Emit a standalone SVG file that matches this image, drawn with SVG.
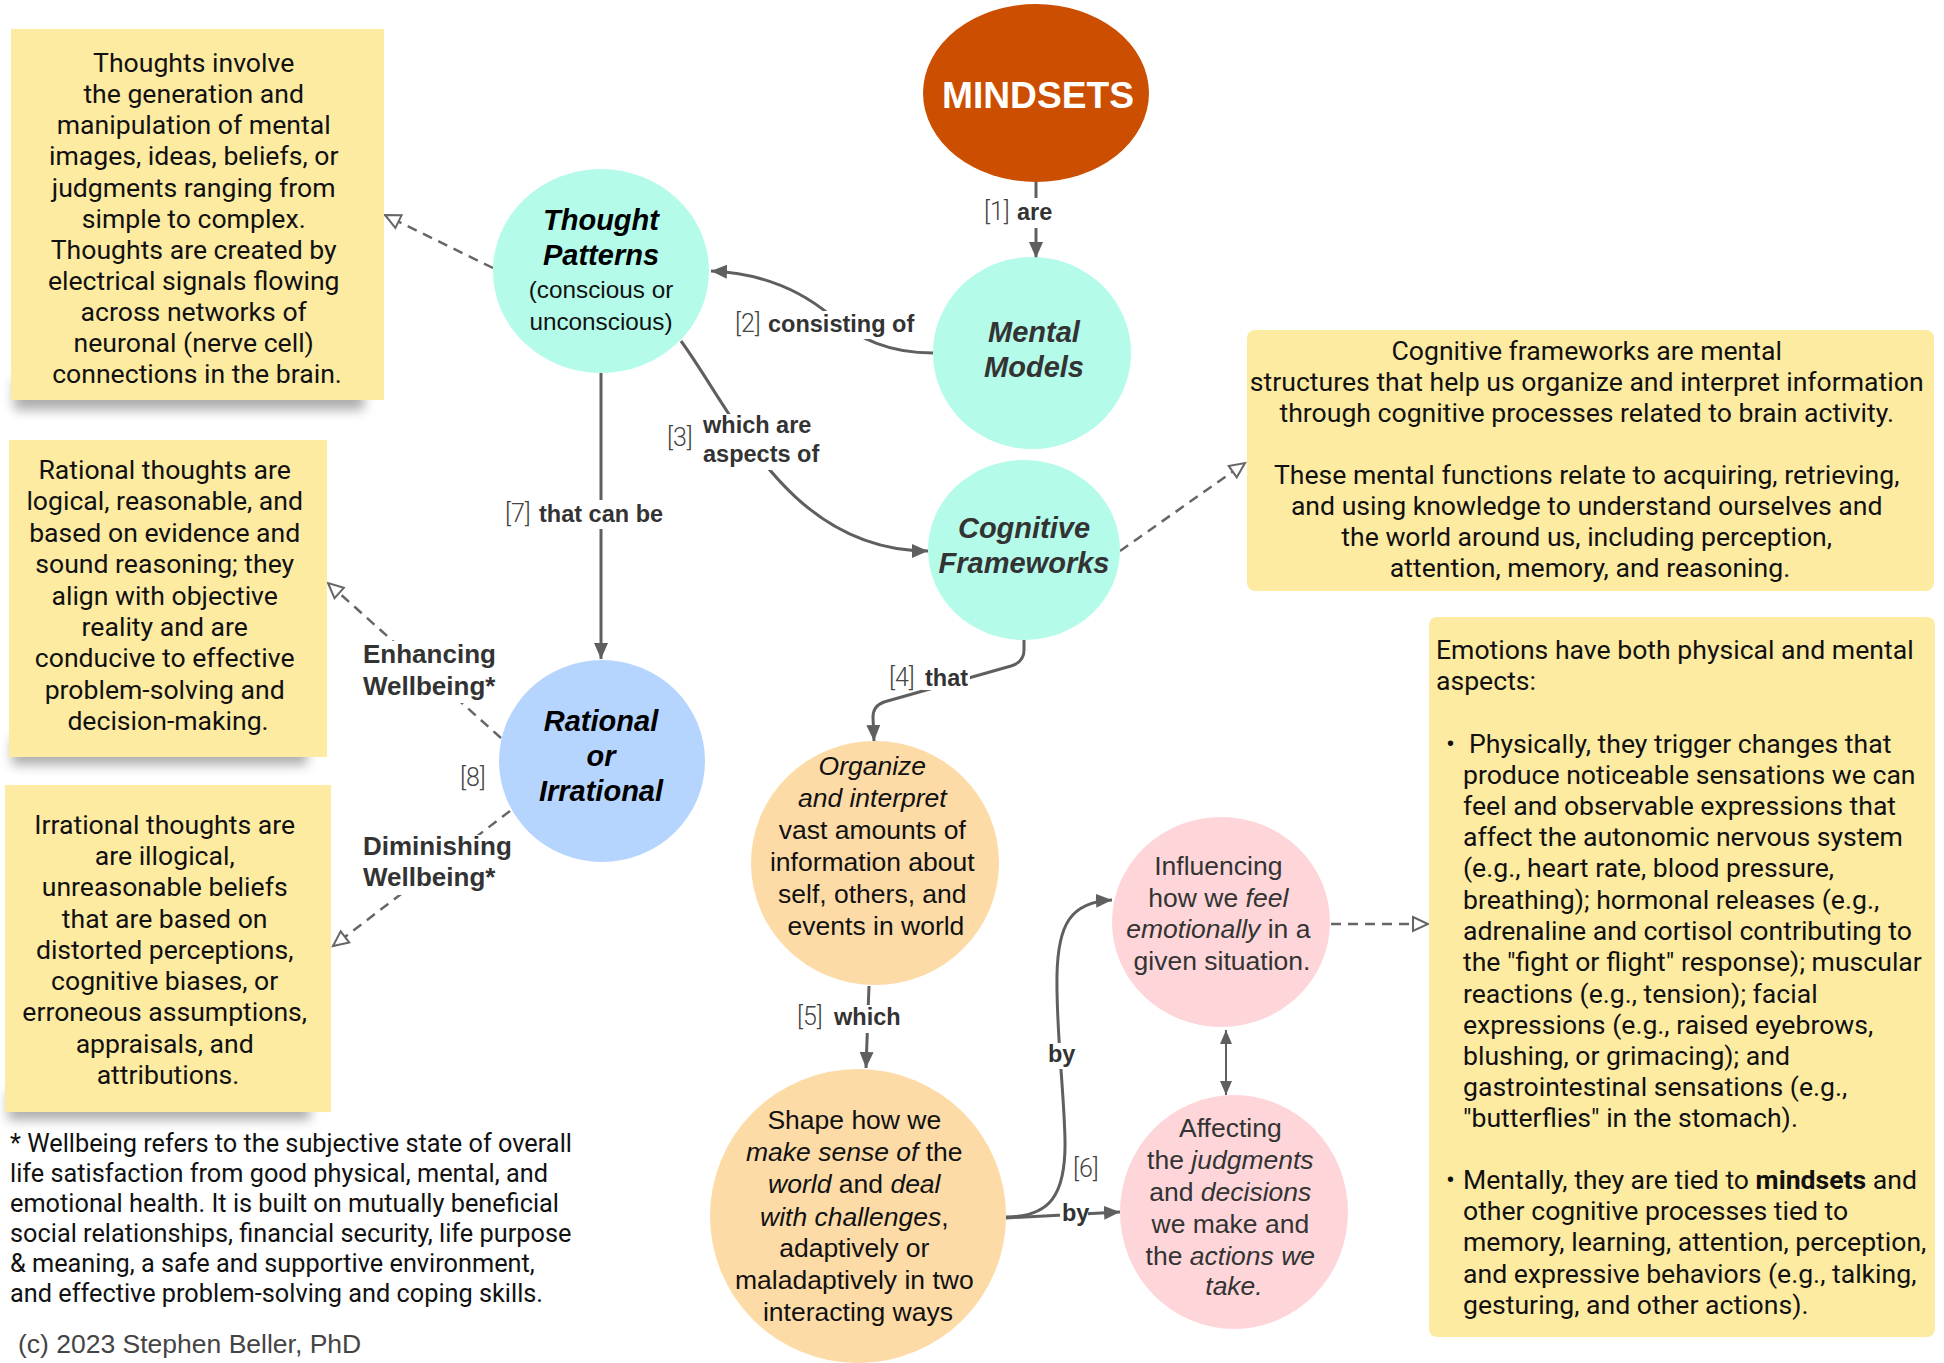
<svg xmlns="http://www.w3.org/2000/svg" width="1944" height="1363" viewBox="0 0 1944 1363">
<defs>
<marker id="ah" markerUnits="userSpaceOnUse" markerWidth="18" markerHeight="16" refX="16" refY="8" orient="auto"><path d="M0,1 L16,8 L0,15 z" fill="#5f5f5f"/></marker>
<marker id="ahs" markerUnits="userSpaceOnUse" markerWidth="16" markerHeight="14" refX="14" refY="7" orient="auto-start-reverse"><path d="M0,1 L14,7 L0,13 z" fill="#5f5f5f"/></marker>
<marker id="ao" markerUnits="userSpaceOnUse" markerWidth="20" markerHeight="18" refX="17" refY="9" orient="auto"><path d="M2,2 L17,9 L2,16 z" fill="#fff" stroke="#666" stroke-width="2"/></marker>
<filter id="blur" x="-20%" y="-20%" width="140%" height="160%"><feGaussianBlur stdDeviation="6"/></filter>
</defs>
<style>
.note{fill:#FEEBA2}
.shadow{fill:#6b6b6b;opacity:0.55;filter:url(#blur)}
.nt{font-family:Roboto,'Liberation Sans',sans-serif;font-size:26.6px;fill:#111}
.c{text-anchor:middle}
.nd{font-family:'Liberation Sans',Arial,sans-serif}
.title{font-size:29px;font-weight:bold;font-style:italic;text-anchor:middle}
.body{font-size:26.5px;text-anchor:middle}
.i{font-style:italic}
.lbl{font-family:'Liberation Sans',Arial,sans-serif;font-size:23.5px;fill:#333}
.br{font-family:Roboto,'Liberation Sans',sans-serif;font-size:25px;font-weight:300;fill:#444}
.big{font-size:26px}
.b{font-weight:bold}
.con{fill:none;stroke:#5f5f5f;stroke-width:3}
.dash{fill:none;stroke:#666;stroke-width:2.5;stroke-dasharray:10 7}
.bg{fill:#fff}
</style>
<rect width="1944" height="1363" fill="#fff"/>

<g id="connectors">
<path class="con" d="M1036 182 L1036 258" marker-end="url(#ah)"/>
<path class="con" d="M933 353 C890 353 860 340 830 315 C800 290 760 273 711 271" marker-end="url(#ah)"/>
<path class="con" d="M681 341 C735 415 790 551 928 551" marker-end="url(#ah)"/>
<path class="con" d="M601 373 L601 659" marker-end="url(#ah)"/>
<path class="con" d="M1024 640 L1024 650 Q1024 662 1011 666 L884 702 Q873 706 873 717 L874 741" marker-end="url(#ah)"/>
<path class="con" d="M869 986 L866 1068" marker-end="url(#ah)"/>
<path class="con" d="M1006 1217 C1050 1217 1066 1195 1065 1140 C1064 1090 1056 1030 1057 975 C1058 925 1070 902 1112 900" marker-end="url(#ah)"/>
<path class="con" d="M1006 1218 L1120 1212" marker-end="url(#ah)"/>
<path class="con" style="stroke-width:2" d="M1226 1030 L1226 1095" marker-start="url(#ahs)" marker-end="url(#ahs)"/>
<path class="dash" d="M493 268 L385 215" marker-end="url(#ao)"/>
<path class="dash" d="M1120 551 L1245 463" marker-end="url(#ao)"/>
<path class="dash" d="M1331 924 L1428 924" marker-end="url(#ao)"/>
<path class="dash" d="M501 738 L328 583" marker-end="url(#ao)"/>
<path class="dash" d="M510 811 L333 946" marker-end="url(#ao)"/>

<rect class="bg" x="982" y="198" width="72" height="30"/>
<text class="br" x="984" y="220">[1]</text>
<text class="lbl b" x="1017" y="220">are</text>
<rect class="bg" x="732" y="311" width="186" height="28"/>
<text class="br" x="735" y="332">[2]</text>
<text class="lbl b" x="768" y="332">consisting of</text>
<rect class="bg" x="700" y="414" width="118" height="56"/>
<text class="br" x="667" y="446">[3]</text>
<text class="lbl b" x="703" y="433">which are</text>
<text class="lbl b" x="703" y="462">aspects of</text>
<rect class="bg" x="503" y="500" width="164" height="29"/>
<text class="br" x="505" y="522">[7]</text>
<text class="lbl b" x="539" y="522">that can be</text>
<rect class="bg" x="360" y="641" width="140" height="62"/>
<text class="lbl b big" x="363" y="663">Enhancing</text>
<text class="lbl b big" x="363" y="695">Wellbeing*</text>
<text class="br" x="460" y="786">[8]</text>
<rect class="bg" x="360" y="835" width="156" height="60"/>
<text class="lbl b big" x="363" y="855">Diminishing</text>
<text class="lbl b big" x="363" y="886">Wellbeing*</text>
<rect class="bg" x="922" y="666" width="48" height="24"/>
<text class="br" x="889" y="686">[4]</text>
<text class="lbl b" x="925" y="686">that</text>
<rect class="bg" x="795" y="1005" width="110" height="28"/>
<text class="br" x="797" y="1025">[5]</text>
<text class="lbl b" x="834" y="1025">which</text>
<rect class="bg" x="1046" y="1043" width="31" height="26"/>
<text class="lbl b" x="1048" y="1062">by</text>
<rect class="bg" x="1060" y="1202" width="28" height="24"/>
<text class="lbl b" x="1062" y="1221">by</text>
<text class="br" x="1073" y="1177">[6]</text>
</g>

<g id="note-thoughts">
<rect class="shadow" x="14" y="380" width="350" height="30"/>
<rect class="note" x="11" y="29" width="373" height="371"/>
<text class="nt c">
<tspan x="197" y="72">Thoughts involve</tspan>
<tspan x="197" y="103">the generation and</tspan>
<tspan x="197" y="134">manipulation of mental</tspan>
<tspan x="197" y="165">images, ideas, beliefs, or</tspan>
<tspan x="197" y="197">judgments ranging from</tspan>
<tspan x="197" y="228">simple to complex.</tspan>
<tspan x="197" y="259">Thoughts are created by</tspan>
<tspan x="197" y="290">electrical signals flowing</tspan>
<tspan x="197" y="321">across networks of</tspan>
<tspan x="197" y="352">neuronal (nerve cell)</tspan>
<tspan x="197" y="383">connections in the brain.</tspan>
</text>
</g>

<g id="note-rational">
<rect class="shadow" x="12" y="737" width="295" height="28"/>
<rect class="note" x="9" y="440" width="318" height="317"/>
<text class="nt c">
<tspan x="168" y="479">Rational thoughts are</tspan>
<tspan x="168" y="510">logical, reasonable, and</tspan>
<tspan x="168" y="542">based on evidence and</tspan>
<tspan x="168" y="573">sound reasoning; they</tspan>
<tspan x="168" y="605">align with objective</tspan>
<tspan x="168" y="636">reality and are</tspan>
<tspan x="168" y="667">conducive to effective</tspan>
<tspan x="168" y="699">problem-solving and</tspan>
<tspan x="168" y="730">decision-making.</tspan>
</text>
</g>

<g id="note-irrational">
<rect class="shadow" x="8" y="1092" width="302" height="28"/>
<rect class="note" x="5" y="785" width="326" height="327"/>
<text class="nt c">
<tspan x="168" y="834">Irrational thoughts are</tspan>
<tspan x="168" y="865">are illogical,</tspan>
<tspan x="168" y="896">unreasonable beliefs</tspan>
<tspan x="168" y="928">that are based on</tspan>
<tspan x="168" y="959">distorted perceptions,</tspan>
<tspan x="168" y="990">cognitive biases, or</tspan>
<tspan x="168" y="1021">erroneous assumptions,</tspan>
<tspan x="168" y="1053">appraisals, and</tspan>
<tspan x="168" y="1084">attributions.</tspan>
</text>
</g>

<g id="note-cognitive">
<rect class="note" x="1247" y="330" width="687" height="261" rx="8"/>
<text class="nt c">
<tspan x="1590" y="360">Cognitive frameworks are mental</tspan>
<tspan x="1590" y="391">structures that help us organize and interpret information</tspan>
<tspan x="1590" y="422">through cognitive processes related to brain activity.</tspan>
<tspan x="1590" y="484">These mental functions relate to acquiring, retrieving,</tspan>
<tspan x="1590" y="515">and using knowledge to understand ourselves and</tspan>
<tspan x="1590" y="546">the world around us, including perception,</tspan>
<tspan x="1590" y="577">attention, memory, and reasoning.</tspan>
</text>
</g>

<g id="note-emotions">
<rect class="note" x="1429" y="617" width="506" height="720" rx="8"/>
<text class="nt">
<tspan x="1436" y="659">Emotions have both physical and mental</tspan>
<tspan x="1436" y="690">aspects:</tspan>
<tspan x="1446" y="753">•</tspan><tspan x="1469" y="753">Physically, they trigger changes that</tspan>
<tspan x="1463" y="784">produce noticeable sensations we can</tspan>
<tspan x="1463" y="815">feel and observable expressions that</tspan>
<tspan x="1463" y="846">affect the autonomic nervous system</tspan>
<tspan x="1463" y="877">(e.g., heart rate, blood pressure,</tspan>
<tspan x="1463" y="909">breathing); hormonal releases (e.g.,</tspan>
<tspan x="1463" y="940">adrenaline and cortisol contributing to</tspan>
<tspan x="1463" y="971">the "fight or flight" response); muscular</tspan>
<tspan x="1463" y="1003">reactions (e.g., tension); facial</tspan>
<tspan x="1463" y="1034">expressions (e.g., raised eyebrows,</tspan>
<tspan x="1463" y="1065">blushing, or grimacing); and</tspan>
<tspan x="1463" y="1096">gastrointestinal sensations (e.g.,</tspan>
<tspan x="1463" y="1127">"butterflies" in the stomach).</tspan>
<tspan x="1446" y="1189">•</tspan><tspan x="1463" y="1189">Mentally, they are tied to </tspan><tspan font-weight="bold">mindsets</tspan><tspan> and</tspan>
<tspan x="1463" y="1220">other cognitive processes tied to</tspan>
<tspan x="1463" y="1251">memory, learning, attention, perception,</tspan>
<tspan x="1463" y="1283">and expressive behaviors (e.g., talking,</tspan>
<tspan x="1463" y="1314">gesturing, and other actions).</tspan>
</text>
</g>

<g id="node-mindsets">
<ellipse cx="1036" cy="93" rx="113" ry="89" fill="#CC4E00"/>
<text x="1038" y="108" class="nd" text-anchor="middle" font-size="36" font-weight="bold" fill="#fff" textLength="192" lengthAdjust="spacingAndGlyphs">MINDSETS</text>
</g>

<g id="node-thought-patterns">
<ellipse cx="601" cy="271" rx="108" ry="102" fill="#B4FBEA"/>
<text class="nd title" fill="#000"><tspan x="601" y="230">Thought</tspan><tspan x="601" y="265">Patterns</tspan></text>
<text class="nd" font-size="24.3" text-anchor="middle" fill="#111"><tspan x="601" y="298">(conscious or</tspan><tspan x="601" y="330">unconscious)</tspan></text>
</g>

<g id="node-mental-models">
<ellipse cx="1032" cy="353" rx="99" ry="96" fill="#B4FBEA"/>
<text class="nd title" fill="#333"><tspan x="1034" y="342">Mental</tspan><tspan x="1034" y="377">Models</tspan></text>
</g>

<g id="node-cognitive-frameworks">
<ellipse cx="1024" cy="550" rx="96" ry="90" fill="#B4FBEA"/>
<text class="nd title" fill="#333"><tspan x="1024" y="538">Cognitive</tspan><tspan x="1024" y="573">Frameworks</tspan></text>
</g>

<g id="node-rational">
<ellipse cx="602" cy="761" rx="103" ry="101" fill="#B5D5FE"/>
<text class="nd title" fill="#000"><tspan x="601" y="731">Rational</tspan><tspan x="601" y="766">or</tspan><tspan x="601" y="801">Irrational</tspan></text>
</g>

<g id="node-organize">
<ellipse cx="875" cy="863" rx="124" ry="122" fill="#FDDBA6"/>
<text class="nd body" fill="#111">
<tspan x="876" y="775" class="i">Organize</tspan>
<tspan x="876" y="807" class="i">and interpret</tspan>
<tspan x="876" y="839">vast amounts of</tspan>
<tspan x="876" y="871">information about</tspan>
<tspan x="876" y="903">self, others, and</tspan>
<tspan x="876" y="935">events in world</tspan>
</text>
</g>

<g id="node-shape">
<ellipse cx="858" cy="1216" rx="148" ry="147" fill="#FDDBA6"/>
<text class="nd body" fill="#111">
<tspan x="858" y="1129">Shape how we</tspan>
<tspan x="858" y="1161"><tspan class="i">make sense of</tspan> the</tspan>
<tspan x="858" y="1193"><tspan class="i">world</tspan> and <tspan class="i">deal</tspan></tspan>
<tspan x="858" y="1226"><tspan class="i">with challenges</tspan>,</tspan>
<tspan x="858" y="1257">adaptively or</tspan>
<tspan x="858" y="1289">maladaptively in two</tspan>
<tspan x="858" y="1321">interacting ways</tspan>
</text>
</g>

<g id="node-influencing">
<ellipse cx="1221" cy="922" rx="109" ry="105" fill="#FED6D9"/>
<text class="nd body" fill="#333">
<tspan x="1222" y="875">Influencing</tspan>
<tspan x="1222" y="907">how we <tspan class="i">feel</tspan></tspan>
<tspan x="1222" y="938"><tspan class="i">emotionally</tspan> in a</tspan>
<tspan x="1222" y="970">given situation.</tspan>
</text>
</g>

<g id="node-affecting">
<ellipse cx="1234" cy="1212" rx="114" ry="117" fill="#FED6D9"/>
<text class="nd body" fill="#333">
<tspan x="1234" y="1137">Affecting</tspan>
<tspan x="1234" y="1169">the <tspan class="i">judgments</tspan></tspan>
<tspan x="1234" y="1201">and <tspan class="i">decisions</tspan></tspan>
<tspan x="1234" y="1233">we make and</tspan>
<tspan x="1234" y="1265">the <tspan class="i">actions we</tspan></tspan>
<tspan x="1234" y="1295" class="i">take.</tspan>
</text>
</g>

<g id="footnote">
<text class="nt" style="font-size:25.3px">
<tspan x="10" y="1152">* Wellbeing refers to the subjective state of overall</tspan>
<tspan x="10" y="1182">life satisfaction from good physical, mental, and</tspan>
<tspan x="10" y="1212">emotional health. It is built on mutually beneficial</tspan>
<tspan x="10" y="1242">social relationships, financial security, life purpose</tspan>
<tspan x="10" y="1272">&amp; meaning, a safe and supportive environment,</tspan>
<tspan x="10" y="1302">and effective problem-solving and coping skills.</tspan>
</text>
<text class="nd" x="18" y="1353" font-size="26.5" fill="#444">(c) 2023 Stephen Beller, PhD</text>
</g>
</svg>
